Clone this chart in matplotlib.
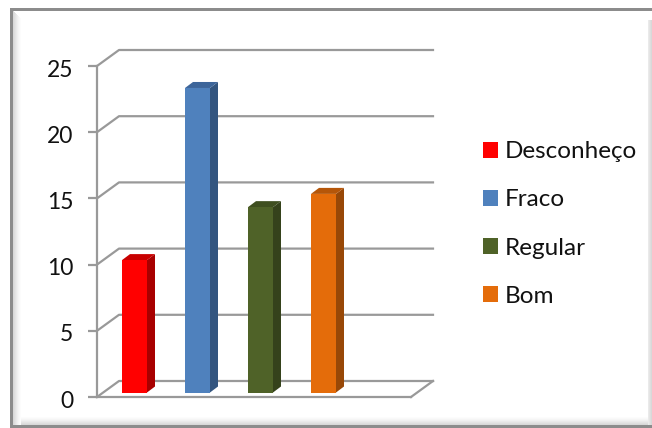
"""Bar chart with a fake 3D look."""
import matplotlib
matplotlib.use('Agg')
import matplotlib.pyplot as plt
from matplotlib.patches import Patch, Polygon, Rectangle
from matplotlib.transforms import ScaledTranslation

plt.rcParams['font.family'] = ['Lato', 'DejaVu Sans']

categories = ['Desconheço', 'Fraco', 'Regular', 'Bom']
values = [10, 23, 14, 15]
front_colors = ['#FF0000', '#4F81BD', '#4F6228', '#E46C0A']
side_colors = ['#A80000', '#33557F', '#35421B', '#984807']
top_colors = ['#C80000', '#3D659A', '#3F4F20', '#B55609']
y_ticks = [0, 5, 10, 15, 20, 25]

W, H = 652, 428
fig = plt.figure(figsize=(W / 100, H / 100), dpi=100)

# outer frame: top, left and bottom lines, soft shadow inside, no right line
frame = fig.add_axes([0, 0, 1, 1], zorder=0)
frame.set_xlim(0, W)
frame.set_ylim(H, 0)
frame.axis('off')
shades = ['#D8D8D8', '#DEDEDE', '#E4E4E4', '#EAEAEA', '#F0F0F0', '#F5F5F5', '#F9F9F9', '#FCFCFC']
for i, c in enumerate(shades):
    frame.add_patch(Rectangle((13 + i, 11 + i), 1, 414 - i, color=c, lw=0))
    frame.add_patch(Rectangle((13 + i, 424 - i), 639 - i, 1, color=c, lw=0))
for i, c in enumerate(shades[:4]):
    frame.add_patch(Rectangle((651 - i, 20), 1, 405, color=c, lw=0))
frame.add_patch(Rectangle((10, 8), 642, 3, color='#8C8C8C', lw=0))
frame.add_patch(Rectangle((10, 8), 3, 420, color='#8C8C8C', lw=0))
frame.add_patch(Rectangle((10, 425), 642, 3, color='#8C8C8C', lw=0))

# plot axes: value 0 at pixel row 397, value 25 at pixel row 66
left, right, top, bottom = 97, 411, 66, 397
ax = fig.add_axes([left / W, 1 - bottom / H, (right - left) / W, (bottom - top) / H],
                  zorder=1)
ax.patch.set_visible(False)
px_x = 63.0  # pixels per category
px_y = (bottom - top) / 25.0  # pixels per value unit
ax.set_xlim(-(122 + 12.5 - left) / px_x, (right - 122 - 12.5) / px_x)
ax.set_ylim(0, 25)

grid_color = '#999999'
depth_x, depth_y = 22 / px_x, 16 / px_y
x0, x1 = ax.get_xlim()
for v in y_ticks:
    ax.plot([x0, x0 + depth_x, x1 + depth_x], [v, v + depth_y, v + depth_y],
            color=grid_color, lw=1.6, clip_on=False, zorder=1)
ax.plot([x1, x1 + depth_x], [0, depth_y], color=grid_color, lw=1.6, clip_on=False, zorder=1)

# bars stand a little behind the front plane
base = 4.5 / px_y
half = 12.5 / px_x
side_x, side_y = 8 / px_x, 6 / px_y
for i, v in enumerate(values):
    xl, xr = i - half, i + half
    ax.add_patch(Polygon([(xr, base), (xr + side_x, base + side_y),
                          (xr + side_x, v + base + side_y), (xr, v + base)],
                         color=side_colors[i], lw=0, zorder=3, clip_on=False))
    ax.add_patch(Polygon([(xl, v + base), (xl + side_x, v + base + side_y),
                          (xr + side_x, v + base + side_y), (xr, v + base)],
                         color=top_colors[i], lw=0, zorder=3, clip_on=False))
    ax.bar(i, v, bottom=base, width=2 * half, color=front_colors[i], lw=0, zorder=4)

for s in ['top', 'right']:
    ax.spines[s].set_visible(False)
for s in ['left', 'bottom']:
    ax.spines[s].set_color(grid_color)
    ax.spines[s].set_linewidth(1.6)
ax.set_xticks([])
ax.set_yticks(y_ticks)
ax.tick_params(axis='y', length=6.5, width=1.6, color=grid_color, pad=10.5,
               labelsize=16.5, labelcolor='#111111')
# the labels sit about 2 pixels below their ticks
shift = ScaledTranslation(0, -2 / 100, fig.dpi_scale_trans)
for label in ax.get_yticklabels():
    label.set_transform(label.get_transform() + shift)

handles = [Patch(color=c, lw=0) for c in front_colors]
ax.legend(handles, categories, loc='center left', frameon=False,
          bbox_to_anchor=((483 - left) / (right - left), (397 - 224) / (bottom - top)),
          fontsize=17.5, handlelength=0.62, handleheight=0.62, handletextpad=0.29,
          labelspacing=1.115, borderpad=0, borderaxespad=0, labelcolor='#111111')

fig.savefig('out.png', dpi=100)
